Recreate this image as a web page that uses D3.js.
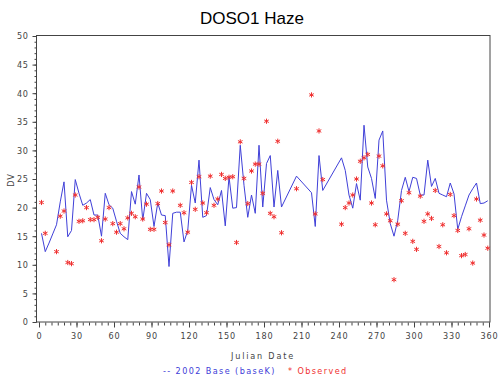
<!DOCTYPE html>
<html>
<head>
<meta charset="utf-8">
<script src="https://cdn.jsdelivr.net/npm/d3@7"></script>
<style>
  body { margin: 0; background: #fff; }
  text { font-family: "DejaVu Sans Condensed", "Liberation Sans Narrow", sans-serif; }
</style>
</head>
<body>
<div id="graph"></div>
<script>
// model line (2002 Base, baseK), every 3rd day
const modelDays = [2,5,8,11,14,17,20,23,26,29,32,35,38,41,44,47,50,53,56,59,62,65,68,71,74,77,80,83,86,89,92,95,98,101,104,107,110,113,116,119,122,125,128,131,134,137,140,143,146,149,152,155,158,161,164,167,170,173,176,179,182,185,188,191,194,206,218,221,224,227,242,245,248,251,254,257,260,263,266,269,272,275,278,281,284,287,290,293,296,299,302,305,308,311,314,317,320,323,326,329,332,335,338,341,344,347,350,353,356,359];
const modelVals = [15.5,12.3,13.8,15.4,17,21,24.5,14.9,16,24.9,22.5,20.4,20.8,21.4,18.7,18.7,15,22.5,20.5,19.9,17.6,15.5,14.9,14.4,22.8,20.6,25.7,17.8,22.5,21.4,16.7,20.8,18.7,18.6,9.7,19,19.2,19.2,14,16,23.9,20.8,28.3,18.3,18.6,23.5,21.4,20.5,23,16.8,25.4,19.9,20,30.9,23.9,18.3,22.2,19,30.9,20.1,27.7,29.1,20.1,26.5,20.1,25.5,22.6,16.7,29.1,23,28.7,26.5,22.2,19.9,24.2,21.3,34.4,27.1,25.1,21.6,31.8,33.4,21.3,17.2,15,17.8,23,25.3,22.8,25.3,25.1,22.2,22.2,28.3,23.7,25.1,22.5,22.2,21.9,24.3,22.4,16.2,18.4,20.3,22.2,23.3,24.3,20.7,20.8,21.2];

// observed values
const obsDays = [2,5,14,17,20,23,26,29,32,35,38,41,44,47,50,53,56,59,62,65,68,71,74,77,80,83,86,89,92,95,98,101,104,107,113,116,119,122,125,128,131,134,137,140,143,146,149,152,155,158,161,164,167,170,173,176,179,182,185,188,191,194,206,218,221,224,227,242,245,248,251,254,257,260,263,266,269,272,275,278,281,284,287,290,293,296,299,302,305,308,311,314,317,320,323,326,329,332,335,338,341,344,347,350,353,356,359];
const obsVals = [20.9,15.5,12.3,18.5,19.4,10.4,10.2,22.2,17.6,17.7,20,17.9,17.9,18.3,14.2,18,20,17.2,15.7,17.2,16.3,18.2,19,18.4,23.6,18,20.6,16.2,16.2,20.7,22.9,17.4,13.5,22.9,20.4,19.1,15.7,24.4,19.7,25.4,20.8,19.1,25.5,20.4,21.5,25.8,25.1,25.3,25.4,13.9,31.5,25.1,20.7,26.4,27.6,27.6,22.5,35.1,19,18.4,31.6,15.6,23.3,39.7,18.9,33.4,24.9,17.1,20,20.8,22.2,25,28.1,28.7,29.3,20.8,17,29,27.3,18.9,17.7,7.4,17.1,21.2,15.5,22.6,14.1,12.7,22,17.6,18.9,18.1,23,13.2,17,12.1,22.3,18.6,16,11.6,11.8,16.3,10.3,21.5,17.8,15.2,12.9];

const xTicks = d3.range(0, 361, 30);
const yTicks = d3.range(0, 51, 5);

const W = 500, H = 375;
const svg = d3.select("#graph").append("svg")
  .attr("width", W).attr("height", H);

const x = d3.scaleLinear().domain([0, 360]).range([39, 489]);
const y = d3.scaleLinear().domain([0, 50]).range([322, 36]);

const axisCol = "#444";

// frame
svg.append("rect")
  .attr("x", 36.5).attr("y", 35.5)
  .attr("width", 490 - 36.5).attr("height", 322 - 35.5)
  .attr("fill", "none").attr("stroke", axisCol).attr("stroke-width", 1);

// y axis
let yMinor = svg.append("g").attr("transform", "translate(36.5,0)")
  .call(d3.axisLeft(y).tickValues(d3.range(0, 51, 1)).tickSize(2).tickFormat(""));
let yMajor = svg.append("g").attr("transform", "translate(36.5,0)")
  .call(d3.axisLeft(y).tickValues(yTicks).tickSize(4).tickPadding(4));
[yMinor, yMajor].forEach(g => {
  g.select(".domain").remove();
  g.selectAll("line").attr("stroke", axisCol);
  g.selectAll("text").attr("font-size", 9).attr("fill", "#444")
    .attr("letter-spacing", 0.6);
});

// x axis
let xMinor = svg.append("g").attr("transform", "translate(0,322.5)")
  .call(d3.axisBottom(x).tickValues(d3.range(0, 361, 5)).tickSize(3).tickFormat(""));
let xMajor = svg.append("g").attr("transform", "translate(0,322.5)")
  .call(d3.axisBottom(x).tickValues(xTicks).tickSize(5).tickPadding(5));
[xMinor, xMajor].forEach(g => {
  g.select(".domain").remove();
  g.selectAll("line").attr("stroke", axisCol);
  g.selectAll("text").attr("font-size", 9).attr("fill", "#444")
    .attr("letter-spacing", 0.8);
});

// model line
const modelData = modelDays.map((d, i) => ({ day: d, v: modelVals[i] }));
svg.append("path")
  .datum(modelData)
  .attr("fill", "none")
  .attr("stroke", "#4040d8")
  .attr("stroke-width", 1)
  .attr("d", d3.line().x(d => x(d.day)).y(d => y(d.v)));

// observed asterisks
const obsData = obsDays.map((d, i) => ({ day: d, v: obsVals[i] }));
const star = "M0,-2.6L0,2.6M-2.3,-1.3L2.3,1.3M-2.3,1.3L2.3,-1.3";
svg.append("g").selectAll("path")
  .data(obsData)
  .join("path")
  .attr("transform", d => "translate(" + x(d.day) + "," + y(d.v) + ")")
  .attr("d", star)
  .attr("stroke", "#f03030")
  .attr("stroke-width", 1)
  .attr("fill", "none");

// title and labels
svg.append("text")
  .attr("x", 252).attr("y", 24)
  .attr("text-anchor", "middle")
  .attr("font-size", 17)
  .style("font-family", "'Liberation Sans', Arial, sans-serif")
  .text("DOSO1 Haze");

svg.append("text")
  .attr("transform", "translate(14,180) rotate(-90)")
  .attr("text-anchor", "middle")
  .attr("font-size", 9).attr("fill", "#444")
  .attr("letter-spacing", 1)
  .text("DV");

svg.append("text")
  .attr("x", 263).attr("y", 359)
  .attr("text-anchor", "middle")
  .attr("font-size", 9).attr("fill", "#444")
  .attr("letter-spacing", 1.8)
  .text("Julian Date");

const legend = svg.append("text")
  .attr("y", 374)
  .attr("font-size", 9)
  .attr("letter-spacing", 1.4);
legend.append("tspan").attr("x", 163).attr("fill", "#4040d8").text("-- 2002 Base (baseK)");
legend.append("tspan").attr("x", 288).attr("fill", "#f03030").text("* Observed");
</script>
</body>
</html>
